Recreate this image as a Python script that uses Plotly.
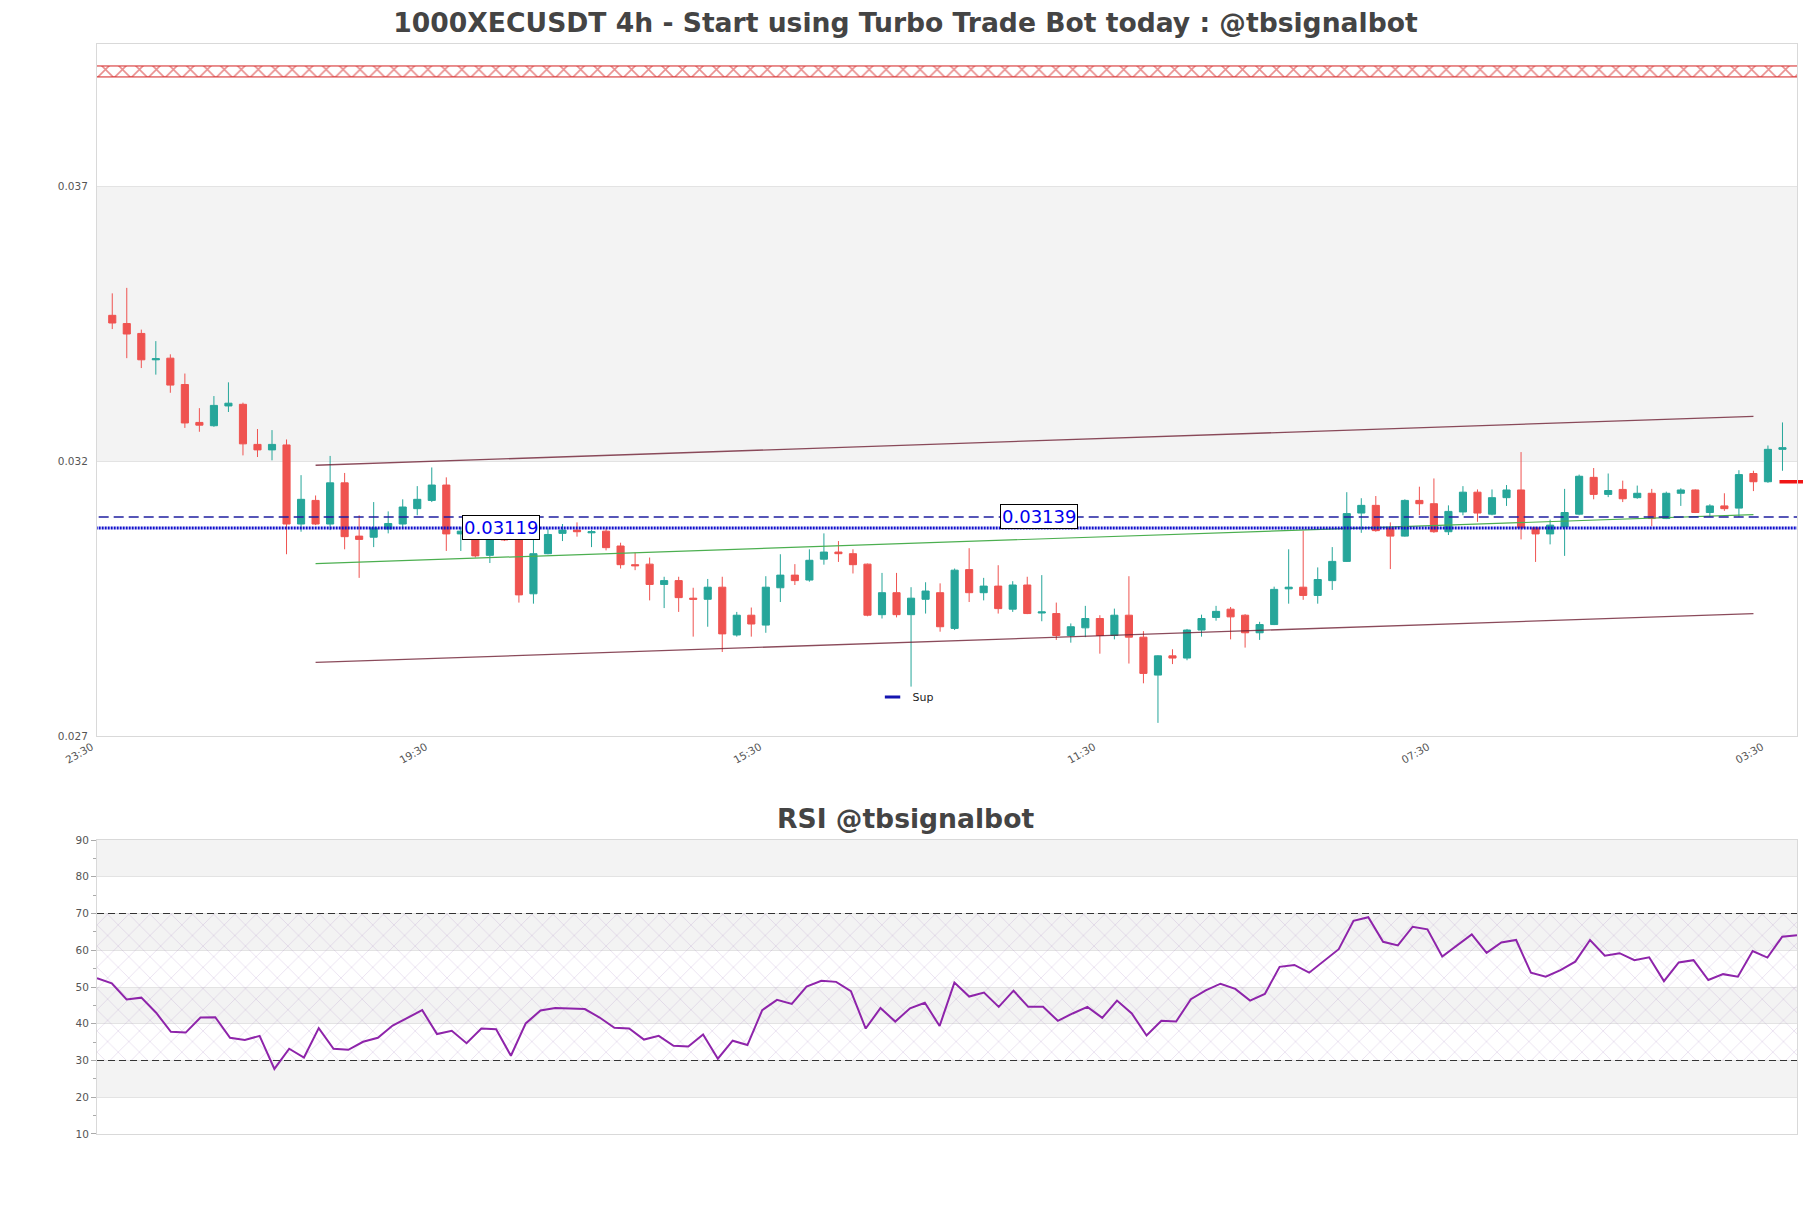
import pandas as pd
import plotly.graph_objects as go
from plotly.subplots import make_subplots


# 4h candles (first bar is a 03:30 candle)
opens = [0.03506, 0.03491, 0.03473, 0.03425, 0.03428, 0.03380, 0.03311, 0.03305, 0.03341, 0.03344,
         0.03271, 0.03261, 0.03270, 0.03126, 0.03169, 0.03126, 0.03201, 0.03104, 0.03102, 0.03117,
         0.03126, 0.03154, 0.03169, 0.03197, 0.03108, 0.03112, 0.03069, 0.03100, 0.03098, 0.02999,
         0.03072, 0.03109, 0.03115, 0.03110, 0.03113, 0.03086, 0.03052, 0.03053, 0.03016, 0.03023,
         0.02991, 0.02989, 0.03011, 0.02924, 0.02960, 0.02942, 0.03010, 0.03033, 0.03024, 0.03062,
         0.03075, 0.03072, 0.03053, 0.02961, 0.03001, 0.02961, 0.02989, 0.03001, 0.02936, 0.03043,
         0.03001, 0.03013, 0.02971, 0.03015, 0.02964, 0.02963, 0.02923, 0.02937, 0.02954, 0.02923,
         0.02960, 0.02920, 0.02851, 0.02886, 0.02882, 0.02933, 0.02956, 0.02971, 0.02960, 0.02928,
         0.02943, 0.03008, 0.03011, 0.02996, 0.03023, 0.03058, 0.03146, 0.03160, 0.03119, 0.03104,
         0.03169, 0.03163, 0.03112, 0.03148, 0.03184, 0.03144, 0.03174, 0.03188, 0.03119, 0.03108,
         0.03121, 0.03144, 0.03211, 0.03180, 0.03189, 0.03174, 0.03182, 0.03136, 0.03182, 0.03188,
         0.03147, 0.03159, 0.03155, 0.03218, 0.03203, 0.03262]
highs = [0.03546, 0.03556, 0.03480, 0.03459, 0.03435, 0.03400, 0.03337, 0.03359, 0.03384, 0.03347,
         0.03299, 0.03297, 0.03280, 0.03215, 0.03178, 0.03250, 0.03219, 0.03142, 0.03166, 0.03149,
         0.03171, 0.03195, 0.03229, 0.03211, 0.03120, 0.03115, 0.03106, 0.03104, 0.03102, 0.03100,
         0.03118, 0.03126, 0.03129, 0.03115, 0.03118, 0.03092, 0.03074, 0.03065, 0.03030, 0.03030,
         0.03010, 0.03026, 0.03030, 0.02966, 0.02974, 0.03031, 0.03071, 0.03053, 0.03080, 0.03109,
         0.03095, 0.03080, 0.03054, 0.03037, 0.03037, 0.03011, 0.03020, 0.03018, 0.03045, 0.03082,
         0.03028, 0.03051, 0.03022, 0.03030, 0.03033, 0.02983, 0.02945, 0.02977, 0.02960, 0.02972,
         0.03031, 0.02931, 0.02887, 0.02898, 0.02935, 0.02961, 0.02977, 0.02975, 0.02962, 0.02948,
         0.03012, 0.03080, 0.03114, 0.03047, 0.03084, 0.03184, 0.03173, 0.03177, 0.03129, 0.03171,
         0.03194, 0.03209, 0.03160, 0.03195, 0.03189, 0.03189, 0.03197, 0.03257, 0.03121, 0.03134,
         0.03190, 0.03216, 0.03228, 0.03218, 0.03205, 0.03196, 0.03190, 0.03185, 0.03191, 0.03189,
         0.03162, 0.03182, 0.03224, 0.03223, 0.03269, 0.03311]
lows = [0.03481, 0.03428, 0.03410, 0.03398, 0.03365, 0.03301, 0.03294, 0.03303, 0.03330, 0.03251,
        0.03248, 0.03242, 0.03071, 0.03112, 0.03124, 0.03115, 0.03080, 0.03028, 0.03084, 0.03109,
        0.03120, 0.03142, 0.03166, 0.03077, 0.03077, 0.03065, 0.03055, 0.03095, 0.02983, 0.02981,
        0.03071, 0.03095, 0.03103, 0.03084, 0.03078, 0.03045, 0.03042, 0.02987, 0.02973, 0.02966,
        0.02921, 0.02939, 0.02893, 0.02921, 0.02921, 0.02928, 0.02984, 0.03015, 0.03021, 0.03052,
        0.03057, 0.03036, 0.02958, 0.02954, 0.02956, 0.02830, 0.02963, 0.02930, 0.02933, 0.02984,
        0.02987, 0.02963, 0.02966, 0.02962, 0.02949, 0.02915, 0.02910, 0.02920, 0.02890, 0.02916,
        0.02872, 0.02836, 0.02764, 0.02871, 0.02878, 0.02921, 0.02950, 0.02916, 0.02901, 0.02915,
        0.02942, 0.02981, 0.02988, 0.02981, 0.03006, 0.03057, 0.03110, 0.03112, 0.03044, 0.03103,
        0.03142, 0.03110, 0.03106, 0.03142, 0.03130, 0.03142, 0.03159, 0.03098, 0.03057, 0.03089,
        0.03068, 0.03142, 0.03171, 0.03175, 0.03166, 0.03172, 0.03122, 0.03135, 0.03159, 0.03146,
        0.03139, 0.03150, 0.03139, 0.03186, 0.03201, 0.03223]
closes = [0.03492, 0.03472, 0.03425, 0.03427, 0.03379, 0.03310, 0.03306, 0.03342, 0.03346, 0.03272,
          0.03261, 0.03271, 0.03126, 0.03171, 0.03126, 0.03201, 0.03103, 0.03098, 0.03119, 0.03127,
          0.03157, 0.03171, 0.03197, 0.03108, 0.03113, 0.03068, 0.03101, 0.03097, 0.02997, 0.03072,
          0.03107, 0.03115, 0.03112, 0.03112, 0.03083, 0.03052, 0.03050, 0.03016, 0.03023, 0.02992,
          0.02989, 0.03011, 0.02926, 0.02960, 0.02944, 0.03011, 0.03033, 0.03023, 0.03060, 0.03075,
          0.03072, 0.03052, 0.02960, 0.03001, 0.02961, 0.02991, 0.03004, 0.02939, 0.03042, 0.03001,
          0.03013, 0.02972, 0.03015, 0.02963, 0.02966, 0.02923, 0.02939, 0.02954, 0.02923, 0.02960,
          0.02920, 0.02854, 0.02886, 0.02882, 0.02933, 0.02954, 0.02967, 0.02957, 0.02928, 0.02943,
          0.03007, 0.03011, 0.02996, 0.03025, 0.03058, 0.03145, 0.03160, 0.03114, 0.03104, 0.03169,
          0.03163, 0.03112, 0.03149, 0.03184, 0.03146, 0.03174, 0.03188, 0.03119, 0.03108, 0.03124,
          0.03147, 0.03213, 0.03180, 0.03187, 0.03172, 0.03182, 0.03136, 0.03182, 0.03188, 0.03147,
          0.03159, 0.03154, 0.03216, 0.03203, 0.03262, 0.03265]

# RSI, one value per candle
rsi = [52.4, 51.0, 46.6, 47.1, 43.0, 37.8, 37.6, 41.7, 41.8, 36.2,
       35.6, 36.7, 27.7, 33.2, 30.8, 38.8, 33.2, 32.9, 35.1, 36.2,
       39.5, 41.5, 43.7, 37.2, 38.1, 34.7, 38.7, 38.5, 31.3, 40.1,
       43.6, 44.3, 44.1, 44.0, 41.7, 38.9, 38.7, 35.7, 36.7, 34.0,
       33.8, 37.1, 30.5, 35.4, 34.2, 43.7, 46.5, 45.4, 50.1, 51.7,
       51.4, 48.9, 38.7, 44.3, 40.6, 44.2, 45.7, 39.4, 51.2, 47.4,
       48.5, 44.6, 49.0, 44.6, 44.6, 40.8, 42.8, 44.6, 41.6, 46.3,
       42.8, 36.8, 40.8, 40.6, 46.7, 49.1, 50.9, 49.5, 46.3, 48.1,
       55.5, 56.0, 53.9, 57.2, 60.3, 68.0, 69.0, 62.3, 61.3, 66.4,
       65.7, 58.3, 61.4, 64.3, 59.3, 62.1, 62.8, 53.9, 52.8, 54.6,
       56.9, 62.8, 58.5, 59.2, 57.3, 58.1, 51.6, 56.7, 57.3, 51.9,
       53.5, 52.8, 59.8, 58.0, 63.7, 64.1]

times = pd.date_range("2024-05-20 03:30", periods=len(opens), freq="4h")
step = pd.Timedelta(hours=4)


def bar_time(i):
    # time of (possibly fractional) bar index i
    return times[0] + i * step


# x ticks every 23 bars, starting one bar before the first candle
tick_bars = [-1, 22, 45, 68, 91, 114]
price_ticks = [0.0274, 0.0324, 0.0374]
rsi_ticks = [10, 20, 30, 40, 50, 60, 70, 80, 90]

# levels
sup_level = 0.03119
res_level = 0.03139
zone_low = 0.0394
zone_high = 0.0396
next_price = 0.03203
label_bars = [26.75, 63.8]

# regression channel
channel_bars = [14, 113]
channel_upper = [0.03233, 0.03322]
channel_mid = [0.03054, 0.03143]
channel_lower = [0.02874, 0.02963]

GRAY_BAND = '#f3f3f3'
GRID = '#e3e3e3'
BORDER = '#d9d9d9'

# the page body has an 8px margin, so the figure is sized to end at the window edge
W, H = 1803, 1200

fig = make_subplots(rows=2, cols=1, vertical_spacing=0.05)

x_lo = bar_time(-1.05)
x_hi = bar_time(116.0)
x_wide = [bar_time(-3), bar_time(119)]

# resistance zone (hatched)
fig.add_trace(go.Scatter(
    x=[x_wide[0], x_wide[1], x_wide[1], x_wide[0], x_wide[0]],
    y=[zone_low, zone_low, zone_high, zone_high, zone_low],
    mode='lines', fill='toself', fillcolor='rgba(255,255,255,0)',
    fillpattern=dict(shape='x', size=12, solidity=0.25, fgcolor='#d32020', bgcolor='rgba(0,0,0,0)'),
    line=dict(color='#d32020', width=1), hoverinfo='skip', showlegend=False
), row=1, col=1)

# channel
ch_x = [bar_time(b) for b in channel_bars]
for ys, col, w in [(channel_upper, 'rgba(110,30,50,0.8)', 1.3),
                   (channel_lower, 'rgba(110,30,50,0.8)', 1.3),
                   (channel_mid, '#4caf50', 1.2)]:
    fig.add_trace(go.Scatter(x=ch_x, y=ys, mode='lines', line=dict(color=col, width=w),
                             hoverinfo='skip', showlegend=False), row=1, col=1)

# horizontal levels
fig.add_trace(go.Scatter(x=x_wide, y=[res_level, res_level], mode='lines',
                         line=dict(color='#1f1fa0', width=1.5, dash='10px,5px'),
                         hoverinfo='skip', showlegend=False), row=1, col=1)
fig.add_trace(go.Scatter(x=x_wide, y=[sup_level, sup_level], mode='lines',
                         line=dict(color='#1010cc', width=3, dash='2px,1px'),
                         hoverinfo='skip', showlegend=False), row=1, col=1)

# candles
fig.add_trace(go.Candlestick(
    x=times, open=opens, high=highs, low=lows, close=closes,
    increasing=dict(line=dict(color='#26a69a', width=1), fillcolor='#26a69a'),
    decreasing=dict(line=dict(color='#ef5350', width=1), fillcolor='#ef5350'),
    showlegend=False
), row=1, col=1)

# next price marker
fig.add_trace(go.Scatter(x=[bar_time(116)], y=[next_price], mode='markers', cliponaxis=False,
                         marker=dict(symbol='line-ew', size=25, line=dict(color='#f01515', width=3.5)),
                         hoverinfo='skip', showlegend=False), row=1, col=1)

# legend entry
fig.add_trace(go.Scatter(x=[None], y=[None], mode='markers', name='Sup',
                         marker=dict(symbol='line-ew', size=11, line=dict(color='#1515b0', width=3)),
                         showlegend=True), row=1, col=1)

# RSI: hatched 30-70 zone and line
r_x0, r_x1 = bar_time(-2), bar_time(118)
fig.add_trace(go.Scatter(
    x=[r_x0, r_x1, r_x1, r_x0, r_x0], y=[30, 30, 70, 70, 30],
    mode='lines', fill='toself', fillcolor='rgba(255,255,255,0)',
    fillpattern=dict(shape='x', size=15, solidity=0.08, fgcolor='rgba(150,110,180,0.6)', bgcolor='rgba(0,0,0,0)'),
    line=dict(width=0), hoverinfo='skip', showlegend=False
), row=2, col=1)
fig.add_trace(go.Scatter(x=times, y=rsi, mode='lines', line=dict(color='#8e24aa', width=2),
                         showlegend=False), row=2, col=1)

for lvl in [30, 70]:
    fig.add_hline(y=lvl, line=dict(color='#333333', width=1.2, dash='7px,4px'), row=2, col=1)

# alternating bands
fig.add_hrect(y0=price_ticks[1], y1=price_ticks[2], fillcolor=GRAY_BAND, line_width=0,
              layer='below', row=1, col=1)
for lo in rsi_ticks[1:-1:2]:
    fig.add_hrect(y0=lo, y1=lo + 10, fillcolor=GRAY_BAND, line_width=0, layer='below', row=2, col=1)

for b, lvl in zip(label_bars, [sup_level, res_level]):
    fig.add_annotation(x=bar_time(b), y=lvl, text=f'{lvl:.5f}', showarrow=False,
                       font=dict(size=18, color='#0000ee'), bgcolor='white', bordercolor='black',
                       borderwidth=1, borderpad=1, xref='x', yref='y')

fig.add_annotation(x=0.4756, y=0.289, xref='paper', yref='paper', text='RSI @tbsignalbot',
                   showarrow=False, yanchor='middle',
                   font=dict(family='DejaVu Sans', size=26.6, color='#444444', weight='bold'))

fig.update_layout(
    width=W, height=H,
    paper_bgcolor='white', plot_bgcolor='white',
    margin=dict(l=89, r=14, t=36, b=74),
    font=dict(family='DejaVu Sans', color='#555555'),
    title=dict(text='1000XECUSDT 4h - Start using Turbo Trade Bot today : @tbsignalbot',
               x=897.5 / W, xref='container', xanchor='center', y=1 - 15 / H, yref='container',
               yanchor='middle',
               font=dict(family='DejaVu Sans', size=26.6, color='#444444', weight='bold')),
    legend=dict(x=0.4562, y=0.4142, xanchor='left', yanchor='top', bgcolor='rgba(0,0,0,0)',
                font=dict(size=11, color='#222222')),
    showlegend=True,
    xaxis=dict(domain=[0, 1], type='date', range=[x_lo, x_hi], rangeslider=dict(visible=False),
               tickvals=[bar_time(b) for b in tick_bars], tickformat='%H:%M', tickangle=-30,
               tickfont=dict(size=10.5), showgrid=False, showline=True, mirror=True, linecolor=BORDER,
               ticks='', ticklabelshift=-6),
    yaxis=dict(domain=[0.3651, 1], range=[0.0274, 0.0400], tickvals=price_ticks, tickformat='.3f',
               tickfont=dict(size=10.5), showgrid=True, gridcolor=GRID, zeroline=False,
               showline=True, mirror=True, linecolor=BORDER,
               ticks='outside', ticklen=6, tickcolor='rgba(0,0,0,0)'),
    xaxis2=dict(domain=[0, 1], type='date', range=[times[0], times[-1]], showticklabels=False,
                showgrid=False, showline=True, mirror=True, linecolor=BORDER, ticks=''),
    yaxis2=dict(domain=[0, 0.2697], range=[10, 90], tickvals=rsi_ticks, tickfont=dict(size=10.5),
                showgrid=True, gridcolor=GRID, zeroline=False, showline=True, mirror=True, linecolor=BORDER,
                ticks='outside', ticklen=5, tickcolor='#aaaaaa',
                minor=dict(ticks='outside', ticklen=3, dtick=5, tickcolor='#aaaaaa', showgrid=False)),
)

fig.write_html("out.html")
